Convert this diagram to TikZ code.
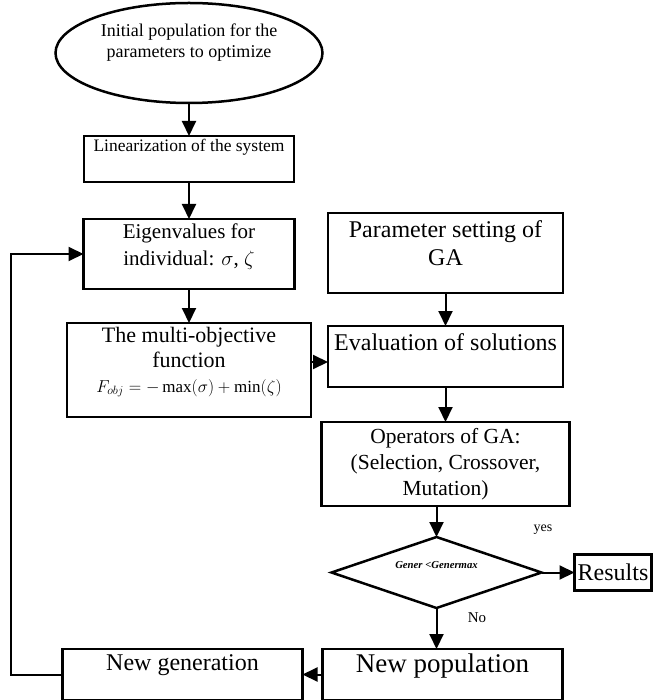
\documentclass[tikz,border=0pt]{standalone}
\usepackage{fontspec}
\setmainfont{Liberation Serif}
\setmathrm{Liberation Serif}
\usetikzlibrary{arrows.meta,shapes.geometric,positioning}
\newcommand{\fsz}[2]{\fontsize{#1}{#2}\selectfont}

\begin{document}
\begin{tikzpicture}[
    x=1pt, y=-1pt,
    box/.style={
        rectangle,
        draw=black,
        line width=2.5pt,
        inner sep=0pt,
        outer sep=0pt
    },
    startnode/.style={
        ellipse,
        draw=black,
        line width=2.5pt,
        inner sep=0pt,
        outer sep=0pt,
        minimum width=267pt,
        minimum height=100pt
    },
    decision/.style={
        diamond,
        draw=black,
        line width=2.5pt,
        inner sep=0pt,
        outer sep=0pt,
        minimum width=210pt,
        minimum height=71pt
    },
    txt/.style={
        align=center,
        inner sep=0pt
    },
    flow/.style={
        -{Triangle[length=15pt,width=14pt]},
        line width=2pt
    }
]

\useasboundingbox (0,0) rectangle (657,700);

% -------------------- Left column ---------------------------
\node[startnode] (init) at (189,53) {};
\node[txt, font=\fsz{18}{21}] (initT) at ([yshift=10pt]init.center)
  {Initial population for the\\parameters to optimize};

\node[box, minimum width=210pt, minimum height=46pt, below=33pt of init] (lin) {};
\node[txt, font=\fsz{17.5}{20}] (linT) at ([yshift=12pt]lin.center)
  {Linearization of the system};

\node[box, minimum width=211pt, minimum height=70pt, below=37pt of lin] (eig) {};
\node[txt, font=\fsz{21}{27}] (eigT) at ([yshift=7pt]eig.center)
  {Eigenvalues for\\individual: $\sigma$, $\zeta$};

\node[box, minimum width=244pt, minimum height=94pt, below=34pt of eig] (multi) {};
\node[txt, font=\fsz{22}{25}] (multiT) at ([yshift=8pt]multi.center)
  {The multi-objective\\function\\{\fsz{17}{19}$F_{obj}=-\max(\sigma)+\min(\zeta)$}};

% -------------------- Right column --------------------------
\node[box, minimum width=235pt, minimum height=80pt] (par) at (445.5,253) {};
\node[txt, font=\fsz{24}{28}] (parT) at ([yshift=10pt]par.center)
  {Parameter setting of\\GA};

\node[box, minimum width=235pt, minimum height=61pt, below=33pt of par] (eval) {};
\node[txt, font=\fsz{24}{28}] (evalT) at ([yshift=14pt]eval.center)
  {Evaluation of solutions};

\node[box, minimum width=248pt, minimum height=84pt, below=35pt of eval,
      align=center, font=\fsz{21.5}{26}] (ops)
  {Operators of GA:\\(Selection, Crossover,\\Mutation)};

\node[decision, below=31pt of ops, xshift=-9pt] (dia) {};
\node[txt, font=\fsz{10.7}{12}\bfseries\itshape] (diaT) at ([yshift=7pt]dia.center)
  {Gener <Genermax};

\node[box, minimum width=77pt, minimum height=36pt, right=33pt of dia,
      font=\fsz{24}{27}] (res) {Results};

\node[font=\fsz{14}{16}] (yesL) at (543,530) {yes};
\node[font=\fsz{15}{17}] (noL) at (477,618) {No};

% -------------------- Bottom row ----------------------------
\node[box, minimum width=240pt, minimum height=51pt, below=41pt of dia, xshift=6pt] (newpop) {};
\node[txt, font=\fsz{27}{30}] (newpopT) at ([yshift=9pt]newpop.center)
  {New population};

\node[box, minimum width=240pt, minimum height=51pt, left=20pt of newpop] (newgen) {};
\node[txt, font=\fsz{24}{28}] (newgenT) at ([yshift=9pt]newgen.center)
  {New generation};

% -------------------- Flows ---------------------------------
\draw[flow] (init) -- (lin);
\draw[flow] (lin) -- (eig);
\draw[flow] (eig) -- (multi);
\draw[flow] (multi.east) ++(0,-8) coordinate (mo) -- (mo -| eval.west);
\draw[flow] (par) -- (eval);
\draw[flow] (eval) -- (ops);
\draw[flow] (dia.north |- ops.south) -- (dia.north);
\draw[flow] (dia.east) -- (dia.east -| res.west);
\draw[flow] (dia.south) -- (dia.south |- newpop.north);
\draw[flow] (newpop) -- (newgen);
\draw[flow] (newgen.west) -- ++(-52,0) |- (eig.west);

\end{tikzpicture}
\end{document}
